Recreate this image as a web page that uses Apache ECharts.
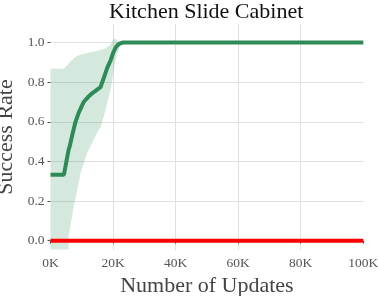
<!DOCTYPE html>
<html>
<head>
<meta charset="utf-8">
<script src="https://cdn.jsdelivr.net/npm/echarts@6/dist/echarts.min.js"></script>
<style>html,body{margin:0;padding:0;background:#fff}#c{width:379px;height:296px}</style>
</head>
<body>
<div id="c"></div>
<script>
const titleText = 'Kitchen Slide Cabinet';
const xName = 'Number of Updates';
const yName = 'Success Rate';
const xTicks = [0, 20000, 40000, 60000, 80000, 100000];
const yTicks = [0, 0.2, 0.4, 0.6, 0.8, 1.0];

const meanX = [0, 4300, 5800, 6200, 6900, 8000, 9000, 10600, 12000, 13300, 16000, 17000, 18100, 19200, 20200, 21000, 21800, 23000, 100000];
const meanY = [0.333, 0.333, 0.46, 0.48, 0.53, 0.60, 0.645, 0.70, 0.725, 0.744, 0.775, 0.82, 0.871, 0.91, 0.955, 0.98, 0.992, 1.0, 1.0];

const bandX =     [0, 4200, 5800, 5900, 7400, 8500, 9600, 10600, 11700, 13800, 15400, 16000, 17000, 17600, 18100, 19200, 19700, 20200, 20400, 21300, 21500, 22400, 22900, 100000];
const bandUpper = [0.868, 0.868, 0.893, 0.896, 0.921, 0.932, 0.94, 0.943, 0.948, 0.955, 0.96, 0.963, 0.968, 0.972, 0.978, 0.99, 1.005, 1.018, 1.022, 1.012, 1.01, 1.004, 1.0, 1.0];
const bandLower = [-0.045, -0.045, -0.045, 0.03, 0.172, 0.25, 0.34, 0.39, 0.443, 0.509, 0.56, 0.57, 0.627, 0.66, 0.694, 0.763, 0.81, 0.862, 0.88, 0.946, 0.955, 0.99, 1.0, 1.0];

const baseX = [0, 100000];
const baseY = [0, 0];

const font = 'Liberation Serif';
const chart = echarts.init(document.getElementById('c'), null, {renderer: 'canvas'});

const pairs = (xs, ys) => xs.map((x, i) => [x, ys[i]]);

chart.setOption({
  animation: false,
  backgroundColor: '#fff',
  title: {
    text: titleText, left: 104, top: -4,
    textStyle: {fontFamily: font, fontSize: 22, fontWeight: 'normal', color: '#111'}
  },
  grid: {left: 50.5, right: 15.7, top: 24, bottom: 46, containLabel: false, outerBoundsMode: 'none'},
  xAxis: {
    type: 'value', min: 0, max: 100000, interval: 20000,
    name: xName, nameLocation: 'middle', nameGap: 23,
    nameTextStyle: {fontFamily: font, fontSize: 22, color: '#444'},
    axisLine: {show: false},
    axisTick: {show: true, length: 3, lineStyle: {color: '#555'}},
    axisLabel: {fontFamily: font, fontSize: 13.5, color: '#555', margin: 6,
      formatter: v => (v / 1000) + 'K'},
    splitLine: {show: true, showMinLine: false, showMaxLine: false, lineStyle: {color: '#e0e0e0', width: 1}}
  },
  yAxis: {
    type: 'value', min: -0.047, max: 1.094, offset: 2,
    name: yName, nameLocation: 'middle', nameGap: 24,
    nameTextStyle: {fontFamily: font, fontSize: 22, color: '#444'},
    axisLine: {show: false},
    axisTick: {show: true, length: 3, customValues: yTicks, lineStyle: {color: '#555'}},
    axisLabel: {fontFamily: font, fontSize: 13.5, color: '#555', margin: 4, customValues: yTicks,
      formatter: v => v.toFixed(1)},
    splitLine: {show: true, lineStyle: {color: '#e0e0e0', width: 1}}
  },
  series: [
    {
      type: 'custom',
      data: [0],
      silent: true,
      z: 1,
      renderItem: function (params, api) {
        const pts = [];
        for (let i = 0; i < bandX.length; i++) pts.push(api.coord([bandX[i], bandUpper[i]]));
        for (let i = bandX.length - 1; i >= 0; i--) pts.push(api.coord([bandX[i], bandLower[i]]));
        return {type: 'polygon', shape: {points: pts}, style: {fill: 'rgba(46,139,87,0.2)', stroke: null}};
      }
    },
    {
      type: 'line', data: pairs(meanX, meanY), showSymbol: false, z: 3,
      lineStyle: {color: '#2e8b57', width: 4}, itemStyle: {color: '#2e8b57'}
    },
    {
      type: 'line', data: pairs(baseX, baseY), showSymbol: false, z: 4,
      lineStyle: {color: '#ff0000', width: 4}, itemStyle: {color: '#ff0000'}
    }
  ]
});
</script>
</body>
</html>
